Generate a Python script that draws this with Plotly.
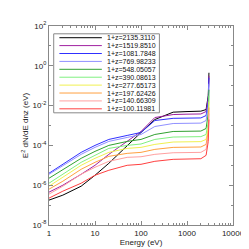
import plotly.graph_objects as go

energy = [1, 2, 5, 10, 20, 50, 100, 200, 500, 1000, 2000, 2600, 2900, 3000]

labels = ["1+z=2135.3110", "1+z=1519.8510", "1+z=1081.7848", "1+z=769.98233",
          "1+z=548.05057", "1+z=390.08613", "1+z=277.65173", "1+z=197.62426",
          "1+z=140.66309", "1+z=100.11981"]
colors = ["#000000", "#a020a0", "#3030ff", "#9090ff", "#30a030",
          "#80f080", "#f0f050", "#ffa040", "#ffa0a0", "#ff4040"]

log_s1 = [-6.75, -6.5, -6.05, -5.5, -4.9, -4.0, -3.35, -2.7, -2.33, -2.3, -2.28, -2.2, -1.5, -0.35]
log_s2 = [-6.35, -6.0, -5.45, -5.0, -4.45, -3.8, -3.3, -2.6, -2.45, -2.43, -2.42, -2.3, -1.6, -0.5]
log_s3 = [-5.4, -4.95, -4.35, -4.0, -3.7, -3.5, -3.35, -2.75, -2.64, -2.63, -2.62, -2.5, -1.8, -0.6]
log_s4 = [-5.45, -5.0, -4.45, -4.1, -3.8, -3.6, -3.45, -3.05, -2.9, -2.89, -2.88, -2.75, -2.0, -0.9]
log_s5 = [-5.65, -5.2, -4.65, -4.3, -4.0, -3.8, -3.7, -3.45, -3.3, -3.29, -3.28, -3.15, -2.4, -1.2]
log_s6 = [-5.9, -5.45, -4.85, -4.5, -4.15, -4.0, -3.93, -3.7, -3.58, -3.57, -3.56, -3.45, -2.8, -1.5]
log_s7 = [-6.05, -5.6, -5.0, -4.65, -4.35, -4.15, -4.1, -3.95, -3.83, -3.82, -3.81, -3.7, -3.1, -1.8]
log_s8 = [-6.2, -5.8, -5.2, -4.85, -4.55, -4.4, -4.35, -4.2, -4.1, -4.09, -4.08, -3.95, -3.3, -2.1]
log_s9 = [-6.45, -6.05, -5.45, -5.1, -4.8, -4.6, -4.57, -4.45, -4.37, -4.36, -4.35, -4.2, -3.5, -2.4]
log_s10 = [-6.65, -6.3, -5.9, -5.5, -5.25, -5.0, -4.95, -4.8, -4.7, -4.68, -4.67, -4.5, -3.8, -2.7]

series = [log_s1, log_s2, log_s3, log_s4, log_s5, log_s6, log_s7, log_s8, log_s9, log_s10]

ytick_vals = [1e2, 1e0, 1e-2, 1e-4, 1e-6, 1e-8]
ytick_text = ["10<sup>2</sup>", "10<sup>0</sup>", "10<sup>-2</sup>", "10<sup>-4</sup>",
              "10<sup>-6</sup>", "10<sup>-8</sup>"]
xtick_vals = [1, 10, 100, 1000, 10000]
xtick_text = ["1", "10", "100", "1000", "10000"]

W, H = 249, 249
ML, MR, MT, MB = 41, 13, 13, 32
PW, PH = W - ML - MR, H - MT - MB


def px(xp):
    return (xp - ML) / PW


def py(yp):
    return (H - MB - yp) / PH


fig = go.Figure()
for lab, col, s in zip(labels, colors, series):
    fig.add_trace(go.Scatter(x=energy, y=[10 ** v for v in s], mode="lines",
                             name=lab, line=dict(color=col, width=1)))

fam = "Liberation Sans, Arial, sans-serif"
font = dict(family=fam, size=8, color="#222")
axcol = "#888888"
xminor = [m * 10 ** d for d in range(4) for m in range(2, 10)]
yminor = [10.0 ** k for k in [1, -1, -3, -5, -7]]

# manual legend box (plotly's own legend rows are too tall for this size)
shapes = [dict(type="rect", xref="paper", yref="paper",
               x0=px(46), x1=px(158), y0=py(102), y1=py(21),
               line=dict(color=axcol, width=1), fillcolor="white", layer="above")]
annotations = []
for i, (lab, col) in enumerate(zip(labels, colors)):
    yc = 25.0 + i * 8.1
    shapes.append(dict(type="line", xref="paper", yref="paper",
                       x0=px(52), x1=px(97), y0=py(yc), y1=py(yc),
                       line=dict(color=col, width=1), layer="above"))
    annotations.append(dict(xref="paper", yref="paper", x=px(101), y=py(yc),
                            xanchor="left", yanchor="middle", showarrow=False,
                            borderpad=0, text=lab,
                            font=dict(family=fam, size=7, color="#111")))

fig.update_layout(
    width=W, height=H,
    margin=dict(l=ML, r=MR, t=MT, b=MB),
    paper_bgcolor="white", plot_bgcolor="white",
    font=font,
    showlegend=False,
    shapes=shapes,
    annotations=annotations,
    xaxis=dict(type="log", range=[0, 4], tickvals=xtick_vals, ticktext=xtick_text,
               ticks="inside", ticklen=4, tickcolor=axcol, showline=True, linecolor=axcol,
               mirror="ticks", showgrid=False, zeroline=False,
               minor=dict(tickvals=xminor, ticks="inside", ticklen=2, tickcolor=axcol),
               title=dict(text="Energy (eV)", standoff=2, font=font)),
    yaxis=dict(type="log", range=[-8, 2], tickvals=ytick_vals, ticktext=ytick_text,
               ticks="inside", ticklen=4, tickcolor=axcol, showline=True, linecolor=axcol,
               mirror="ticks", showgrid=False, zeroline=False,
               minor=dict(tickvals=yminor, ticks="inside", ticklen=2, tickcolor=axcol),
               title=dict(text="E<sup>2</sup> dN/dE dnz (eV)", standoff=2, font=font)),
)

fig.write_html("out.html")
